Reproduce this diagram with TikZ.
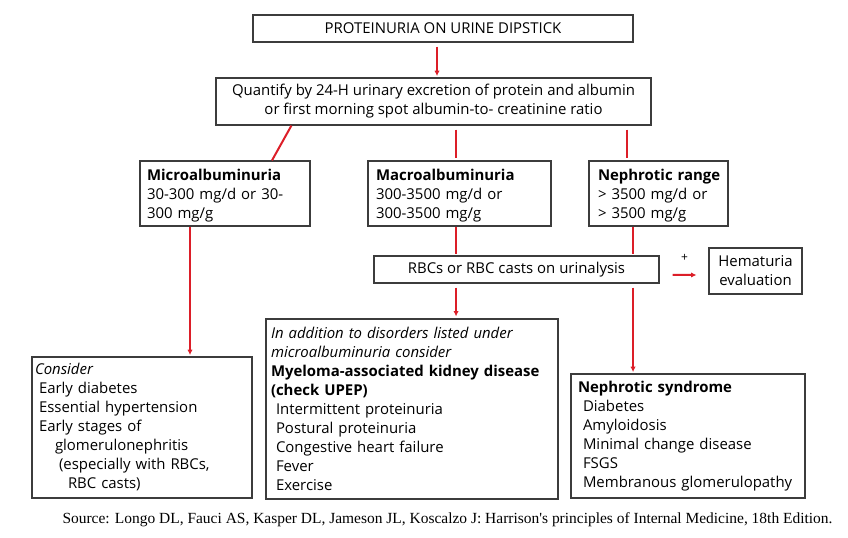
\documentclass[tikz,border=0pt]{standalone}
\usepackage{fontspec}
\setmainfont{Open Sans}
\newfontfamily\srcfont{Liberation Serif}
\usetikzlibrary{arrows.meta}
\definecolor{flowred}{HTML}{DC1E28}
\definecolor{boxgray}{HTML}{3C3C3C}

\begin{document}
\begin{tikzpicture}[
    x=0.75pt, y=-0.75pt,
    box/.style={draw=boxgray, line width=0.9pt, fill=white, inner sep=0pt, align=center,
        font=\fontsize{11.2}{14.25}\selectfont},
    listbox/.style={box, align=left},
    arrow/.style={-{Latex[length=4pt, width=4pt]}, draw=flowred, line width=1.5pt},
    link/.style={draw=flowred, line width=1.5pt}
]
\useasboundingbox (0,0) rectangle (848,538);

% top of the chart
\node[box, minimum width=285pt, minimum height=20.25pt] (dip) at (443,28.5) {PROTEINURIA ON URINE DIPSTICK};
\node[box, minimum width=326.25pt, minimum height=35.25pt] (quant) at (433.5,101.5)
    {Quantify by 24-H urinary excretion of protein and albumin\\or first morning spot albumin-to- creatinine ratio};

% three ranges
\node[listbox, minimum width=127.5pt, minimum height=48.75pt, text width=117pt] (micro) at (225,193.5)
    {\rule{0pt}{12pt}\textbf{Microalbuminuria}\\\makebox[117pt][s]{30-300 mg/d or 30-}\\300 mg/g};
\node[listbox, minimum width=137.25pt, minimum height=48.75pt, text width=125.25pt] (macro) at (459.5,193.5)
    {\rule{0pt}{12pt}\textbf{Macroalbuminuria}\\300-3500 mg/d or\\300-3500 mg/g};
\node[listbox, minimum width=104.25pt, minimum height=48.75pt, text width=90.75pt] (neph) at (658.5,193.5)
    {\rule{0pt}{12pt}\mbox{\textbf{Nephrotic range}}\\> 3500 mg/d or\\> 3500 mg/g};

\node[box, minimum width=213.75pt, minimum height=20.25pt] (rbc) at (516.5,269.5) {RBCs or RBC casts on urinalysis};
\node[box, minimum width=69.75pt, minimum height=34.5pt] (hema) at (755.5,271) {Hematuria\\evaluation};

% lists of causes
\node[listbox, minimum width=165pt, minimum height=105.75pt, text width=160.5pt] (cons) at (142,427.5)
    {\textit{Consider}\\
     \hspace{3pt}Early diabetes\\
     \hspace{3pt}Essential hypertension\\
     \hspace{3pt}Early stages of\\
     \hspace{15pt}glomerulonephritis\\
     \hspace{18pt}(especially with RBCs,\\
     \hspace{24.75pt}RBC casts)};
\node[listbox, minimum width=219pt, minimum height=135pt, text width=211.5pt] (mid) at (412,409)
    {\textit{In addition to disorders listed under}\\
     \textit{microalbuminuria consider}\\
     \textbf{Myeloma-associated kidney disease}\\
     \textbf{(check UPEP)}\\
     \hspace{3.75pt}Intermittent proteinuria\\
     \hspace{3.75pt}Postural proteinuria\\
     \hspace{3.75pt}Congestive heart failure\\
     \hspace{3.75pt}Fever\\
     \hspace{3.75pt}Exercise};
\node[listbox, minimum width=175.5pt, minimum height=93pt, text width=165pt] (syn) at (688,436)
    {\textbf{Nephrotic syndrome}\\
     \hspace{3.75pt}Diabetes\\
     \hspace{3.75pt}Amyloidosis\\
     \hspace{3.75pt}Minimal change disease\\
     \hspace{3.75pt}FSGS\\
     \hspace{3.75pt}Membranous glomerulopathy};

\node[font=\srcfont\fontsize{11.6}{13}\selectfont, inner sep=0pt] (src) at (447.5,520)
    {Source: Longo DL, Fauci AS, Kasper DL, Jameson JL, Koscalzo J: Harrison's principles of Internal Medicine, 18th Edition.};

% connectors
\draw[arrow, shorten <=3pt, shorten >=1pt] ([xshift=-4.5pt]dip.south) -- ([xshift=-4.5pt]dip.south |- quant.north);
\draw[link] ([xshift=57pt]quant.south west) -- ([xshift=35.25pt]micro.north);
\draw[link, shorten <=3pt, shorten >=2pt] ([xshift=-2.6pt]macro.north |- quant.south) -- ([xshift=-2.6pt]macro.north);
\draw[link, shorten <=3pt, shorten >=2pt] ([xshift=-23.6pt]neph.north |- quant.south) -- ([xshift=-23.6pt]neph.north);
\draw[link, shorten >=1pt] ([xshift=-2.6pt]macro.south) -- ([xshift=-2.6pt]macro.south |- rbc.north);
\draw[link, shorten >=1pt] ([xshift=-19.1pt]neph.south) -- ([xshift=-19.1pt]neph.south |- rbc.north);
\draw[arrow, shorten <=3pt, shorten >=1.5pt] ([xshift=-2.6pt]macro.south |- rbc.south) -- ([xshift=-2.6pt]macro.south |- mid.north);
\draw[arrow, shorten <=3pt, shorten >=1pt] ([xshift=-19.1pt]neph.south |- rbc.south) -- ([xshift=-19.1pt]neph.south |- syn.north);
\draw[arrow, shorten >=1pt] ([xshift=-26.25pt]micro.south) -- ([xshift=-26.25pt]micro.south |- cons.north);
\draw[arrow] ([xshift=9.75pt, yshift=-4.1pt]rbc.east) -- ([xshift=-9pt, yshift=-3pt]hema.west)
    node[midway, above=9pt, inner sep=0pt, font=\fontsize{9}{10}\selectfont, black] {+};
\end{tikzpicture}
\end{document}
